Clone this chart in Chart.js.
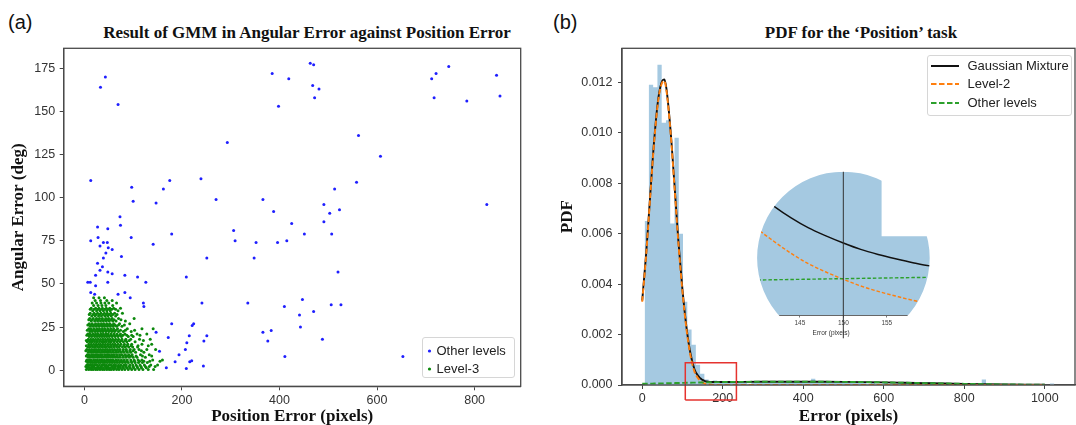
<!DOCTYPE html>
<html lang="en">
<head>
<meta charset="UTF-8">
<title>GMM result and PDF of position error</title>
<script src="https://cdn.jsdelivr.net/npm/chart.js@4.4.1/dist/chart.umd.min.js"></script>
<style>
  body { margin: 0; width: 1076px; height: 425px; position: relative; overflow: hidden; background: #fff;
         font-family: "Liberation Sans", Arial, sans-serif; }
  canvas { position: absolute; top: 0; }
  .tag { position: absolute; top: 12px; font-size: 20px; line-height: 20px; color: #111; }
  .ttl { position: absolute; top: 23px; width: 500px; text-align: center; line-height: 20px; color: #111;
         font: bold 17px "Liberation Serif", "Times New Roman", serif; }
  .legend { position: absolute; box-sizing: border-box; background: rgba(255,255,255,0.9);
            border: 1px solid #d6d6d6; border-radius: 3px; font-size: 13px; color: #222; }
  .legend .row { position: absolute; left: 0; right: 0; height: 16px; line-height: 16px; white-space: nowrap; }
  .legend svg { position: absolute; left: 0; top: 0; }
  .legend span { position: absolute; top: 0; }
</style>
</head>
<body>
<div class="tag" style="left:8px">(a)</div>
<div class="tag" style="left:553px">(b)</div>
<div class="ttl" style="left:57px">Result of GMM in Angular Error against Position Error</div>
<div class="ttl" style="left:611px">PDF for the ‘Position’ task</div>

<canvas id="gmm" width="540" height="425" style="left:0"></canvas>
<canvas id="pdf" width="536" height="425" style="left:540px"></canvas>
<canvas id="lens" width="220" height="180" style="left:720px;top:160px"></canvas>

<div class="legend" id="legA" style="left:422px;top:337px;width:93px;height:41px"></div>
<div class="legend" id="legB" style="left:927px;top:55px;width:145px;height:61px"></div>

<script>
// ---- panel (a): position error (px) vs angular error (deg)
const otherLevels = [
  [33,164],[43,170],[69,154],[13,110],[97,106],[100,98],[73,89],[74,84],[27,83],[48,82],
  [13,75],[28,77],[32,72],[39,74],[47,74],[49,71],[57,70],[96,77],[76,66],[39,65],
  [44,68],[27,62],[37,60],[32,58],[48,57],[57,56],[23,55],[83,55],[109,54],[126,51],
  [7,51],[12,51],[48,51],[23,49],[13,45],[21,44],[69,44],[83,45],[94,42],[121,39],
  [122,37],[147,22],[154,11],[172,19],[179,27],[168,1.5],[209,54],[186,5],[194,9],[207,12],
  [210,16],[215,20],[221,26],[224,27],[216,5],[220,5.5],[209,1],[241,39],[245,17],[251,20],
  [244,2.5],[251,65],[239,111],[162,105],[175,110],[147,97],[141,73],[179,79],[270,99],[293,132],
  [306,81],[309,75],[335,39],[348,65],[352,74],[366,99],[388,92],[396,74],[415,75],[425,85],
  [451,79],[366,22],[383,23],[376,17],[410,37],[441,32],[447,41],[443,25],[470,34],[488,18],
  [411,8],[385,172],[419,169],[398,153],[463,178],[470,177],[468,165],[481,163],[472,158],[491,96],
  [503,91],[491,86],[513,105],[523,93],[507,79],[558,109],[562,136],[607,124],[520,57],[506,38],
  [526,38],[653,8],[712,169],[721,172],[747,176],[717,158],[784,156],[845,171],[852,159],[825,96]
];
// Level-3 cluster, one row of x positions per angular-error level
const level3Y = [0.5,1.5,3,4.5,6,7.5,9,10.5,12,13.5,15,16.5,18,19.5,21,22.5,24,25.5,27,28.5,30,31.5,33,34.5,36,37.5,39,40.5,42,
                 2.2,5.2,8.3,11.3,14.2,17.3,20.3,23.2,26.2,29.3,32.3,35.3];
const level3X = [
  [4,9,14,18,23,27,32,37,41,46,51,55,60,66,71,77,83,90,97,104,112,120,131,142],
  [6,11,16,21,25,30,34,39,44,49,53,58,63,69,74,80,87,94,101,109,117,127],
  [5,9,13,17,22,26,31,36,40,45,50,55,60,64,70,75,81,86,93,99,106,114,123,136,150],
  [7,12,16,20,24,29,33,38,42,47,52,57,62,67,72,78,84,90,97,104,111,119,129],
  [5,10,14,19,23,27,32,36,41,46,50,55,59,65,70,76,82,88,95,102,110,118,140,160],
  [8,12,17,21,26,30,35,39,44,48,53,58,63,68,73,79,85,92,100,108,125],
  [6,10,15,19,24,28,33,37,42,47,51,56,61,66,72,77,84,91,98,115,133],
  [8,13,17,22,26,31,35,40,45,49,54,59,64,69,75,81,88,95,105,122],
  [5,10,15,20,24,29,33,38,43,47,52,57,62,68,73,80,86,94,102,112,128,146],
  [7,12,17,22,27,31,36,41,45,50,55,60,66,71,78,84,91,99,109],
  [9,14,19,24,29,33,38,43,48,53,58,63,69,75,82,89,97,118,138],
  [6,11,16,21,26,31,36,40,45,50,55,61,67,73,80,87,104],
  [8,13,18,23,28,33,38,43,48,53,58,64,70,77,85,95,113,135],
  [10,15,21,26,31,36,41,46,51,57,63,69,76,90,100],
  [7,12,18,23,28,34,39,44,49,55,61,67,74,83,108,128],
  [11,16,22,27,33,38,44,50,56,62,70,80,96],
  [9,14,20,26,31,37,42,48,54,60,68,88,118,141],
  [12,18,24,30,36,41,47,53,59,66,77],
  [10,16,23,29,35,40,46,52,60,72,93],
  [14,21,27,33,39,45,51,58,65,84],
  [11,18,25,31,37,44,50,57,70,102],
  [15,22,29,35,42,48,55,64],
  [12,20,27,34,41,47,54,62,78],
  [17,25,32,39,46,53,69],
  [14,23,30,37,45,52,60,74],
  [19,28,36,44,58],
  [16,25,34,42,50,66],
  [22,33,46,57],
  [19,30,41],
  [3,8,15,19,28,35,43,48,57,62,68,73,79,85,92,100,108,116,125,133,145],
  [4,9,15,22,28,34,39,44,51,56,61,67,74,80,87,96,103,113,122,134,155],
  [4,9,14,20,25,31,36,43,49,55,60,67,73,80,88,96,106,119,138],
  [3,9,14,19,25,30,36,42,48,53,59,65,72,79,86,93,100,117],
  [4,10,15,21,26,32,37,43,49,55,61,66,73,81,88,96,110,131],
  [4,10,15,20,26,32,38,44,50,56,62,69,76,84,92,121],
  [5,9,14,20,25,31,37,43,48,54,60,66,72,79,87,97,114],
  [6,13,18,24,30,35,41,47,53,59,65,74,84,103],
  [7,14,20,27,33,38,44,50,56,63,70,82],
  [9,16,23,29,36,42,48,54,61,75],
  [10,18,24,31,38,45,51,58,67],
  [12,20,28,35,42,49,56,64]
];
const gmmXTicks = [0, 200, 400, 600, 800];
const gmmYTicks = [0, 25, 50, 75, 100, 125, 150, 175];

// ---- panel (b): histogram of position error and fitted pdfs
const binStart = 6, binWidth = 10.6;
const histHeights = [
  0.0065, 0.0119, 0.0118, 0.0127, 0.0104, 0.0105, 0.0064, 0.0098, 0.0060, 0.0033,
  0.0022, 0.0016, 0.0008, 0.00045, 0.00022, 0.0001, 0.00018, 0.00008, 0.00016, 0.0001,
  0.0001, 0.00008, 0.0001, 0.0001, 0.00005, 0.0001, 0.0001, 0.00008, 0.0001, 0.0001,
  0.0001, 0.00008, 0.0001, 0.0001, 0.00012, 0.0001, 0.0001, 0.0001, 0.00008, 0.00025,
  0.0001, 0.0001, 0.0001, 0.00008, 0.0001, 0.0001, 0.0001, 0.00008, 0.0001, 0.0001,
  0.00008, 0.0001, 0.00005, 0.0001, 0.00005, 0.00005, 0.0001, 0.00005, 0.00005, 0.0001,
  0.00005, 0.00005, 0.0001, 0.00005, 0.00005, 0.00005, 0.00012, 0.00012, 0.00005, 0.00003,
  0, 0.00005, 0, 0.00005, 0, 0.00005, 0, 0.00003, 0.00005, 0.00022,
  0, 0, 0.00003, 0, 0, 0.00003, 0, 0, 0.00003, 0,
  0, 0, 0, 0, 0, 0.00006
];
const curveX = [0,10,20,30,40,50,55,60,70,80,90,100,110,120,130,140,142,144,146,148,150,152,154,156,158,160,
                170,180,200,250,300,350,400,450,500,550,600,650,700,750,800,850,900,950,1000];
const mixturePdf = [0.003347,0.00525,0.007554,0.009758,0.011362,0.012065,0.012117,0.011769,0.010172,0.007976,
                    0.00568,0.003783,0.002287,0.00124,0.000614,0.000342,0.000304,0.000271,0.000243,0.000221,
                    0.000201,0.000183,0.000169,0.000157,0.000146,0.000137,0.000121,0.000116,0.000118,0.000124,
                    0.000128,0.00013,0.00013,0.000127,0.000122,0.000114,0.000104,0.00009,0.000075,0.00006,
                    0.000046,0.000034,0.000024,0.000016,0.00001];
const level2Pdf = [0.0033,0.0052,0.0075,0.0097,0.0113,0.0120,0.01205,0.0117,0.0101,0.0079,
                   0.0056,0.0037,0.0022,0.00115,0.00052,0.000244,0.000206,0.000172,0.000143,0.00012,
                   0.0000996,0.000081,0.000066,0.000053,0.000041,0.000032,0.000012,0.000004,0.000001,0,
                   0,0,0,0,0,0,0,0,0,0,
                   0,0,0,0,0];
const otherPdf = [0.000047,0.00005,0.000054,0.000058,0.000062,0.000065,0.000067,0.000069,0.000072,0.000076,
                  0.00008,0.000083,0.000087,0.00009,0.000094,0.0000976,0.0000984,0.0000991,0.0000999,0.0001007,
                  0.0001014,0.0001022,0.000103,0.0001037,0.0001045,0.0001052,0.000109,0.000112,0.000117,0.000124,
                  0.000128,0.00013,0.00013,0.000127,0.000122,0.000114,0.000104,0.00009,0.000075,0.00006,
                  0.000046,0.000034,0.000024,0.000016,0.00001];
const zoomBoxX = [107, 234];
const zoomBoxY = [-0.000595, 0.000884];
const insetMarkX = 150;
const pdfXTicks = [0, 200, 400, 600, 800, 1000];
const pdfYTicks = [0, 0.002, 0.004, 0.006, 0.008, 0.010, 0.012];
const insetXTicks = [145, 150, 155];

// ---- shared look
Chart.defaults.font.family = "'Liberation Sans', Arial, sans-serif";
const serifBold = { family: "'Liberation Serif', 'Times New Roman', serif", size: 17, weight: 'bold', lineHeight: 1 };
const tickFont = { size: 12.5 };
const tickColor = '#333';
const spine = '#4a4a4a';

const frame = {
  id: 'frame',
  afterDraw(c) {
    const a = c.chartArea, ctx = c.ctx;
    ctx.save();
    ctx.strokeStyle = spine;
    ctx.lineWidth = 1.3;
    ctx.strokeRect(a.left, a.top, a.right - a.left, a.bottom - a.top);
    ctx.restore();
  }
};

function axis(min, max, ticks, title, size, horizontal, fmt, pad) {
  return {
    type: 'linear', min, max,
    afterBuildTicks: s => { s.ticks = ticks.map(v => ({ value: v })); },
    afterFit: s => { if (horizontal) s.height = size; else s.width = size; },
    grid: { drawOnChartArea: false, tickLength: 4, color: '#444' },
    border: { color: spine, width: 1.3 },
    ticks: { font: tickFont, color: tickColor, padding: pad, maxRotation: 0, callback: fmt || (v => v) },
    title: { display: true, text: title, font: serifBold, color: '#111', padding: 0 }
  };
}

// ---- chart (a)
const level3Pts = level3Y.flatMap((y, r) => level3X[r].map(x => ({ x, y })));
const gmm = new Chart(document.getElementById('gmm'), {
  type: 'scatter',
  data: {
    datasets: [
      { label: 'Other levels', data: otherLevels.map(p => ({ x: p[0], y: p[1] })),
        backgroundColor: '#1f1fff', borderWidth: 0, pointRadius: 1.5, order: 1 },
      { label: 'Level-3', data: level3Pts,
        backgroundColor: '#0c880c', borderWidth: 0, pointRadius: 1.5, order: 0 }
    ]
  },
  options: {
    responsive: false, animation: false,
    layout: { padding: { left: 10.5, right: 19.3, top: 48.3, bottom: 0 } },
    plugins: { legend: { display: false }, tooltip: { enabled: false } },
    scales: {
      x: axis(-42.4, 894.5, gmmXTicks, 'Position Error (pixels)', 38.7, true, null, 2.5),
      y: axis(-9.3, 186.6, gmmYTicks, 'Angular Error (deg)', 53.2, false, null, 4.5)
    }
  },
  plugins: [frame]
});

// ---- chart (b)
const histPoints = [{ x: binStart, y: 0 }]
  .concat(histHeights.map((h, i) => ({ x: binStart + i * binWidth, y: h })))
  .concat([{ x: binStart + histHeights.length * binWidth, y: 0 }]);
const curve = arr => curveX.map((x, i) => ({ x, y: arr[i] }));
const boxPts = [[0,0],[1,0],[1,1],[0,1],[0,0]].map(c => ({ x: zoomBoxX[c[0]], y: zoomBoxY[c[1]] }));

function pdfSets(thin) {
  const w = thin ? 1.4 : 1.9, dash = thin ? [3.5, 2] : [5.5, 2.5];
  return [
    { label: 'Gaussian Mixture', data: curve(mixturePdf), borderColor: '#111', borderWidth: w,
      pointRadius: 0, cubicInterpolationMode: 'monotone', fill: false, order: 2, inLegend: true },
    { label: 'Level-2', data: curve(level2Pdf), borderColor: '#ff7f0e', borderWidth: w, borderDash: dash,
      pointRadius: 0, cubicInterpolationMode: 'monotone', fill: false, order: 1, inLegend: true },
    { label: 'Other levels', data: curve(otherPdf), borderColor: '#2ca02c', borderWidth: w, borderDash: dash,
      pointRadius: 0, cubicInterpolationMode: 'monotone', fill: false, order: 0, inLegend: true },
    { label: 'hist', data: histPoints, stepped: true, fill: 'origin', borderWidth: 0,
      backgroundColor: '#a5c9e1', pointRadius: 0, order: 5 }
  ];
}

const pdf = new Chart(document.getElementById('pdf'), {
  type: 'line',
  data: {
    datasets: pdfSets(false).concat([
      { label: 'zoom', data: boxPts, borderColor: '#e5332f', borderWidth: 1.5, pointRadius: 0,
        tension: 0, fill: false, clip: false, order: -1 }
    ])
  },
  options: {
    responsive: false, animation: false,
    layout: { padding: { left: 18.8, right: 1, top: 48.3, bottom: 0 } },
    plugins: { legend: { display: false }, tooltip: { enabled: false } },
    scales: {
      x: axis(-50.2, 1075, pdfXTicks, 'Error (pixels)', 40, true, null, 2.5),
      y: axis(0, 0.013348, pdfYTicks, 'PDF', 63.2, false, v => v.toFixed(3), 5.5)
    }
  },
  plugins: [frame]
});

// ---- magnified inset around 150 px
const lensClip = {
  id: 'lensClip',
  beforeDraw(c) {
    const ctx = c.ctx, a = c.chartArea;
    ctx.save();
    ctx.beginPath();
    ctx.arc(123.4, 98, 86.3, 0, Math.PI * 2);
    ctx.rect(0, a.bottom + 1, c.width, c.height);
    ctx.clip();
    ctx.fillStyle = '#fff';
    ctx.fillRect(0, 0, c.width, a.bottom);
  },
  afterDraw(c) { c.ctx.restore(); }
};

new Chart(document.getElementById('lens'), {
  type: 'line',
  data: {
    datasets: pdfSets(true).concat([
      { label: 'mark', data: [{ x: insetMarkX, y: -0.000065 }, { x: insetMarkX, y: 0.00045 }],
        borderColor: '#333', borderWidth: 1, pointRadius: 0, clip: false, fill: false, order: -1 }
    ])
  },
  options: {
    responsive: false, animation: false,
    layout: { padding: { left: 12, right: 9.7, top: 11.7, bottom: 0 } },
    plugins: { legend: { display: false }, tooltip: { enabled: false } },
    scales: {
      x: {
        type: 'linear', min: 137.2, max: 160,
        afterBuildTicks: s => { s.ticks = insetXTicks.map(v => ({ value: v })); },
        afterFit: s => { s.height = 25; },
        grid: { drawOnChartArea: false, tickLength: 2.5, color: '#555', lineWidth: 0.8 },
        border: { color: '#555', width: 0.9 },
        ticks: { font: { size: 6.5 }, color: '#444', padding: 1.5, maxRotation: 0 },
        title: { display: true, text: 'Error (pixels)', font: { size: 6.5, lineHeight: 1 }, color: '#333',
                 padding: { top: 0, bottom: 4 } }
      },
      y: { display: false, min: 0, max: 0.0004 }
    }
  },
  plugins: [lensClip]
});

// ---- html legends built from the datasets
function buildLegend(id, chart, rowTops, textLeft, key) {
  const el = document.getElementById(id);
  chart.data.datasets.filter(d => id === 'legA' || d.inLegend).forEach((d, i) => {
    const row = document.createElement('div');
    row.className = 'row';
    row.style.top = rowTops[i] + 'px';
    row.innerHTML = key(d) + '<span style="left:' + textLeft + 'px">' + d.label + '</span>';
    el.appendChild(row);
  });
}
buildLegend('legA', gmm, [4.5, 23], 13.5,
  d => '<svg width="12" height="16"><circle cx="6.5" cy="8" r="1.6" fill="' + d.backgroundColor + '"/></svg>');
buildLegend('legB', pdf, [1.5, 20, 39], 39.5,
  d => '<svg width="36" height="16"><line x1="3" y1="8" x2="31" y2="8" stroke="' + d.borderColor +
       '" stroke-width="2" stroke-dasharray="' + (d.borderDash ? '5.5,2.5' : 'none') + '"/></svg>');
</script>
</body>
</html>
